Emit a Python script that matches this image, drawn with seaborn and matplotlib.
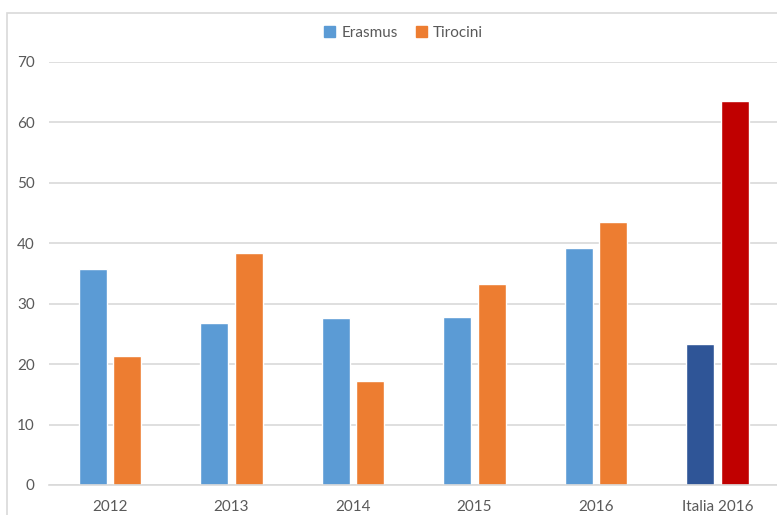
import pandas as pd
import seaborn as sns
import matplotlib.pyplot as plt
from matplotlib.patches import Patch, Rectangle

# values
anni = ['2012', '2013', '2014', '2015', '2016', 'Italia 2016']
erasmus = [35.7, 26.8, 27.6, 27.8, 39.1, 23.3]
tirocini = [21.4, 38.4, 17.2, 33.3, 43.5, 63.5]

df = pd.DataFrame({'Anno': anni * 2,
                   'Valore': erasmus + tirocini,
                   'Tipo': ['Erasmus'] * 6 + ['Tirocini'] * 6})

sns.set_style('white')
plt.rcParams['font.family'] = ['Lato', 'DejaVu Sans']

blu = '#5B9BD5'
arancio = '#ED7D31'
grigio = '#595959'

fig = plt.figure(figsize=(7.77, 5.15), dpi=100)
ax = fig.add_axes([49.25 / 777, 1 - 485 / 515, (778.25 - 49.25) / 777, 423.5 / 515])

sns.barplot(data=df, x='Anno', y='Valore', hue='Tipo', order=anni,
            palette=[blu, arancio], width=0.576, gap=0.2,
            saturation=1, legend=False, ax=ax)

# Italia 2016 in darker colours
ax.containers[0][5].set_facecolor('#2F5597')
ax.containers[1][5].set_facecolor('#C00000')

ax.set_ylim(0, 70)
ax.set_xlim(-0.5, 5.5)
ax.set_yticks(range(0, 71, 10))
ax.yaxis.grid(True, color='#D9D9D9', linewidth=1.2)
ax.set_axisbelow(True)
for s in ['top', 'right', 'left']:
    ax.spines[s].set_visible(False)
ax.spines['bottom'].set_color('#D9D9D9')
ax.spines['bottom'].set_linewidth(1.2)
ax.set_xlabel('')
ax.set_ylabel('')
ax.tick_params(axis='x', length=0, pad=10.5, labelsize=11, colors=grigio)
ax.tick_params(axis='y', length=0, pad=10.5, labelsize=11, colors=grigio)

fig.legend(handles=[Patch(color=blu, label='Erasmus'), Patch(color=arancio, label='Tirocini')],
           loc='center', bbox_to_anchor=(403.5 / 777, 1 - 33 / 515), ncol=2, frameon=False,
           fontsize=11, labelcolor=grigio, handlelength=0.7, handleheight=0.7,
           handletextpad=0.4, columnspacing=1.2)

# chart area border
fig.patches.append(Rectangle((7 / 777, -0.1), 1.2, 1 - 13 / 515 + 0.1, transform=fig.transFigure,
                             fill=False, edgecolor='#D9D9D9', linewidth=1.2))

fig.savefig('out.png', dpi=100)
